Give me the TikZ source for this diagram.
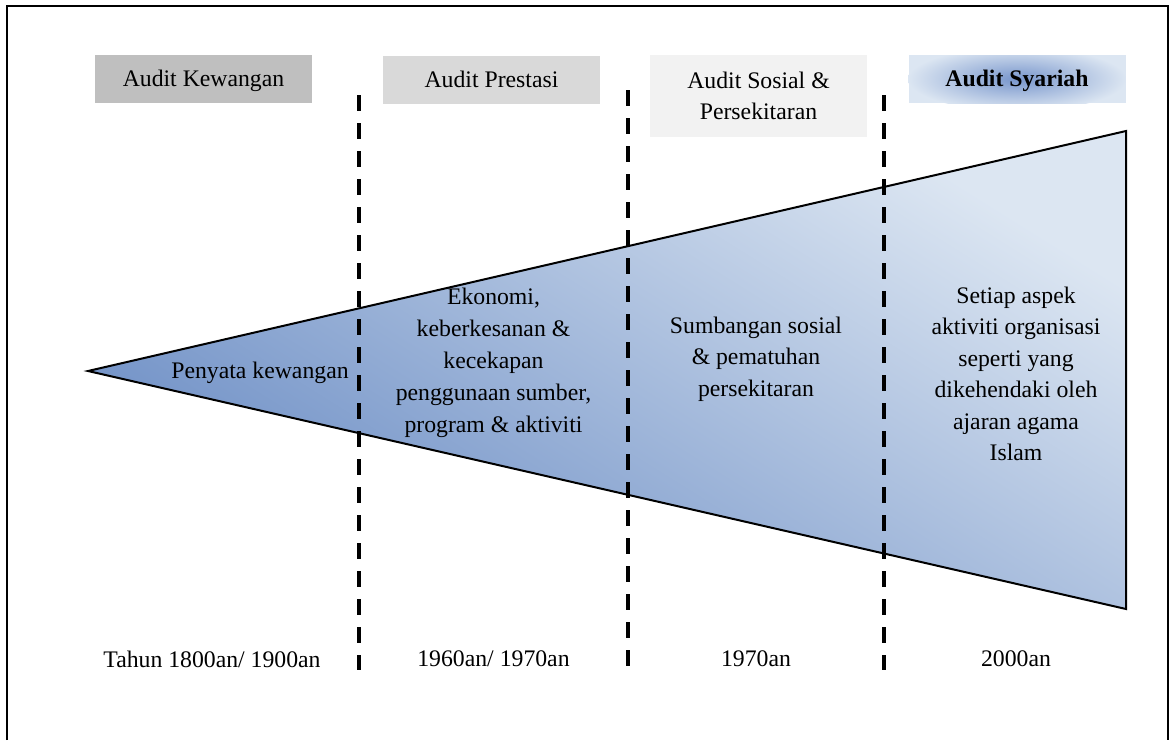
\documentclass[tikz,border=0pt]{standalone}
\usepackage{fontspec}
\setmainfont{Liberation Serif}
\definecolor{kewgray}{HTML}{BFBFBF}
\definecolor{presgray}{HTML}{D9D9D9}
\definecolor{sosgray}{HTML}{F2F2F2}
\definecolor{paleblue}{HTML}{DCE6F2}
\definecolor{glowblue}{HTML}{7896CC}
\definecolor{deepblue}{HTML}{6A8CC4}
\tikzset{header/.style={inner sep=0pt,minimum width=162.75pt,minimum height=36pt,align=center}}
\tikzset{syariah header/.style={header,fill=paleblue,text depth=0.5pt,font=\fontsize{17.8}{23.6}\selectfont\bfseries,
  path picture={\shade[inner color=glowblue,outer color=paleblue]
  (path picture bounding box.center) ellipse [x radius=82pt,y radius=24pt];}}}
\tikzset{body/.style={inner sep=0pt,align=center}}
\tikzset{divider/.style={line width=3pt,dash pattern=on 12pt off 9pt}}

\begin{document}
\begin{tikzpicture}[x=0.75pt,y=-0.75pt,font=\fontsize{17.8}{23.6}\selectfont]
\useasboundingbox (0,0) rectangle (1171,740);
\draw[line width=1.5pt] (7,740) |- (1168,6) -- (1168,740);
\node[header,fill=kewgray,text depth=0.5pt](kewangan) at (203.5,79){Audit Kewangan};
\node[header,fill=presgray](prestasi) at (491.5,79.5){Audit Prestasi};
\node[header,fill=sosgray,minimum height=61.5pt](sosial) at (758.5,96){Audit Sosial \&\\Persekitaran};
\node[syariah header](syariah) at (1017,79){Audit Syariah};
\coordinate (tip) at (88,371);
\coordinate (upper) at (1126,131);
\coordinate (lower) at (1126,609);
\shade[draw,line width=1.5pt,top color=paleblue,bottom color=deepblue,shading angle=-32] (tip) -- (upper) -- (lower) -- cycle;
\draw[divider] (359,95) -- (359,670);
\draw[divider] (628,90) -- (628,670);
\draw[divider] (884,95) -- (884,670);
\node[body](penyata) at (260,373){Penyata kewangan};
\node[body,font=\fontsize{17.8}{24}\selectfont](ekonomi) at (493.5,363){Ekonomi,\\keberkesanan \&\\kecekapan\\penggunaan sumber,\\program \& aktiviti};
\node[body](sumbangan) at (756,359){Sumbangan sosial\\\& pematuhan\\persekitaran};
\node[body](setiap) at (1016,374){Setiap aspek\\aktiviti organisasi\\seperti yang\\dikehendaki oleh\\ajaran agama\\Islam};
\node[body](tahun) at (212,659){Tahun 1800an/ 1900an};
\node[body](enampuluhan) at (493.5,659){1960an/ 1970an};
\node[body](tujuhpuluhan) at (756,659){1970an};
\node[body](duaribu) at (1016,659){2000an};
\end{tikzpicture}
\end{document}
